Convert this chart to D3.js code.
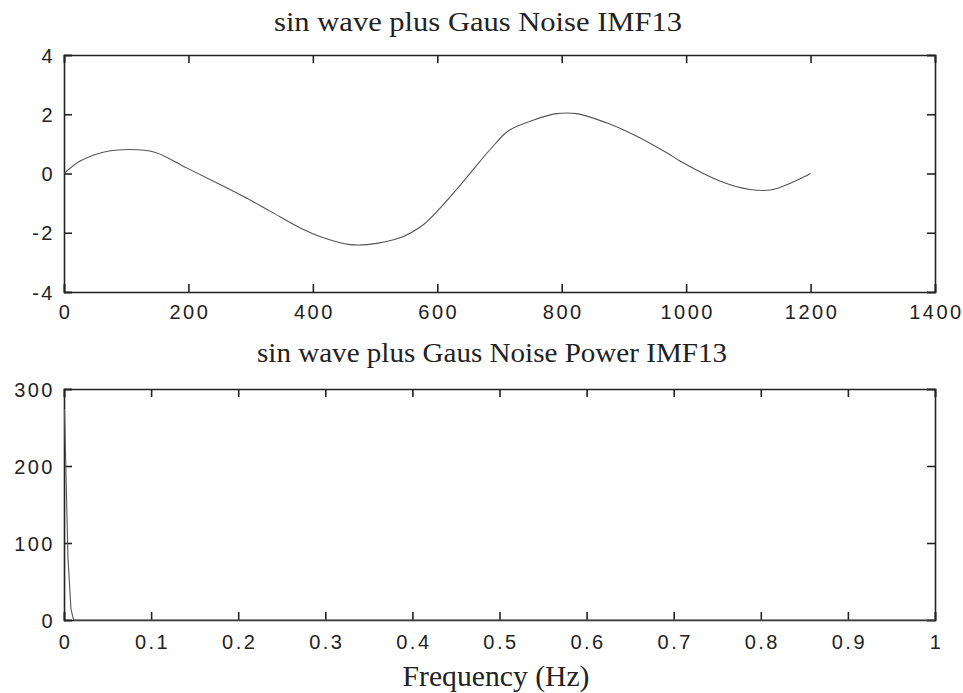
<!DOCTYPE html>
<html>
<head>
<meta charset="utf-8">
<script src="https://cdn.jsdelivr.net/npm/d3@7"></script>
<style>
  body { margin: 0; background: #fff; }
  svg { display: block; }
  .tick text { font-family: "Liberation Sans", Arial, sans-serif; font-size: 20px; letter-spacing: 2.5px; fill: #222; }
  .ttl { font-family: "Liberation Serif", "Times New Roman", serif; font-size: 27px; fill: #222; }
</style>
</head>
<body>
<script>
// top panel: IMF13 samples (sample index, amplitude)
const imfT = [0, 26, 63, 106, 146, 197, 245, 288, 331, 379, 417, 460, 487, 540, 578, 605, 631, 658, 685, 715, 754, 792, 824, 872, 915, 969, 990, 1055, 1103, 1140, 1194, 1200];
const imfV = [0, 0.42, 0.72, 0.81, 0.72, 0.19, -0.31, -0.77, -1.27, -1.83, -2.17, -2.40, -2.40, -2.17, -1.72, -1.16, -0.54, 0.14, 0.81, 1.45, 1.80, 2.02, 2.02, 1.71, 1.32, 0.70, 0.42, -0.26, -0.54, -0.54, -0.07, 0];
const topXTicks = [0, 200, 400, 600, 800, 1000, 1200, 1400];
const topYTicks = [-4, -2, 0, 2, 4];

// bottom panel: power spectrum (frequency, power)
const freq = [0.0005, 0.002, 0.0045, 0.008, 0.011, 0.02, 0.5, 1];
const power = [274, 205, 82, 14, 0, 0, 0, 0];
const botXTicks = [0, 0.1, 0.2, 0.3, 0.4, 0.5, 0.6, 0.7, 0.8, 0.9, 1];
const botYTicks = [0, 100, 200, 300];

const W = 963, H = 693;
const left = 64, right = 935;

const svg = d3.select("body").append("svg").attr("width", W).attr("height", H);

function title(txt, cx, y, len, size) {
  svg.append("text").attr("class", "ttl").attr("x", cx).attr("y", y)
    .attr("text-anchor", "middle").style("font-size", size + "px")
    .attr("textLength", len).attr("lengthAdjust", "spacingAndGlyphs").text(txt);
}

function panel(top, bottom, xDom, yDom, xt, yt, fmtX, xs, ys, curve, xPad) {
  const x = d3.scaleLinear().domain(xDom).range([left, right]);
  const y = d3.scaleLinear().domain(yDom).range([bottom, top]);
  const g = svg.append("g");

  // inward ticks on all four sides, matlab style
  const bx = g.append("g").attr("transform", `translate(0,${bottom})`)
    .call(d3.axisBottom(x).tickValues(xt).tickSize(-8).tickPadding(xPad).tickFormat(fmtX));
  const tx = g.append("g").attr("transform", `translate(0,${top})`)
    .call(d3.axisTop(x).tickValues(xt).tickSize(-8).tickFormat(""));
  const ly = g.append("g").attr("transform", `translate(${left},0)`)
    .call(d3.axisLeft(y).tickValues(yt).tickSize(-8).tickPadding(9).tickFormat(d => String(d)));
  const ry = g.append("g").attr("transform", `translate(${right},0)`)
    .call(d3.axisRight(y).tickValues(yt).tickSize(-8).tickFormat(""));
  [bx, tx, ly, ry].forEach(a => {
    a.select(".domain").attr("stroke", "#222").attr("stroke-width", 1.6);
    a.selectAll(".tick line").attr("stroke", "#222").attr("stroke-width", 1.6);
  });
  ly.selectAll(".tick text").attr("dy", "0.36em");
  bx.selectAll(".tick text").attr("dx", 1);

  const pts = xs.map((v, i) => [v, ys[i]]);
  g.append("path").datum(pts)
    .attr("fill", "none").attr("stroke", "#555").attr("stroke-width", 1.1)
    .attr("d", d3.line().x(d => x(d[0])).y(d => y(d[1])).curve(curve));
}

panel(55, 292, [0, 1400], [-4, 4], topXTicks, topYTicks, d => String(d), imfT, imfV,
  d3.curveCatmullRom.alpha(0.5), 13);
panel(389, 620, [0, 1], [0, 300], botXTicks, botYTicks, d => d === 0 || d === 1 ? d : d.toFixed(1), freq, power,
  d3.curveLinear, 15);

title("sin wave plus Gaus Noise IMF13", 478, 31, 408, 27);
title("sin wave plus Gaus Noise Power IMF13", 492, 362, 470, 27);
title("Frequency (Hz)", 496, 686, 187, 29);
</script>
</body>
</html>
